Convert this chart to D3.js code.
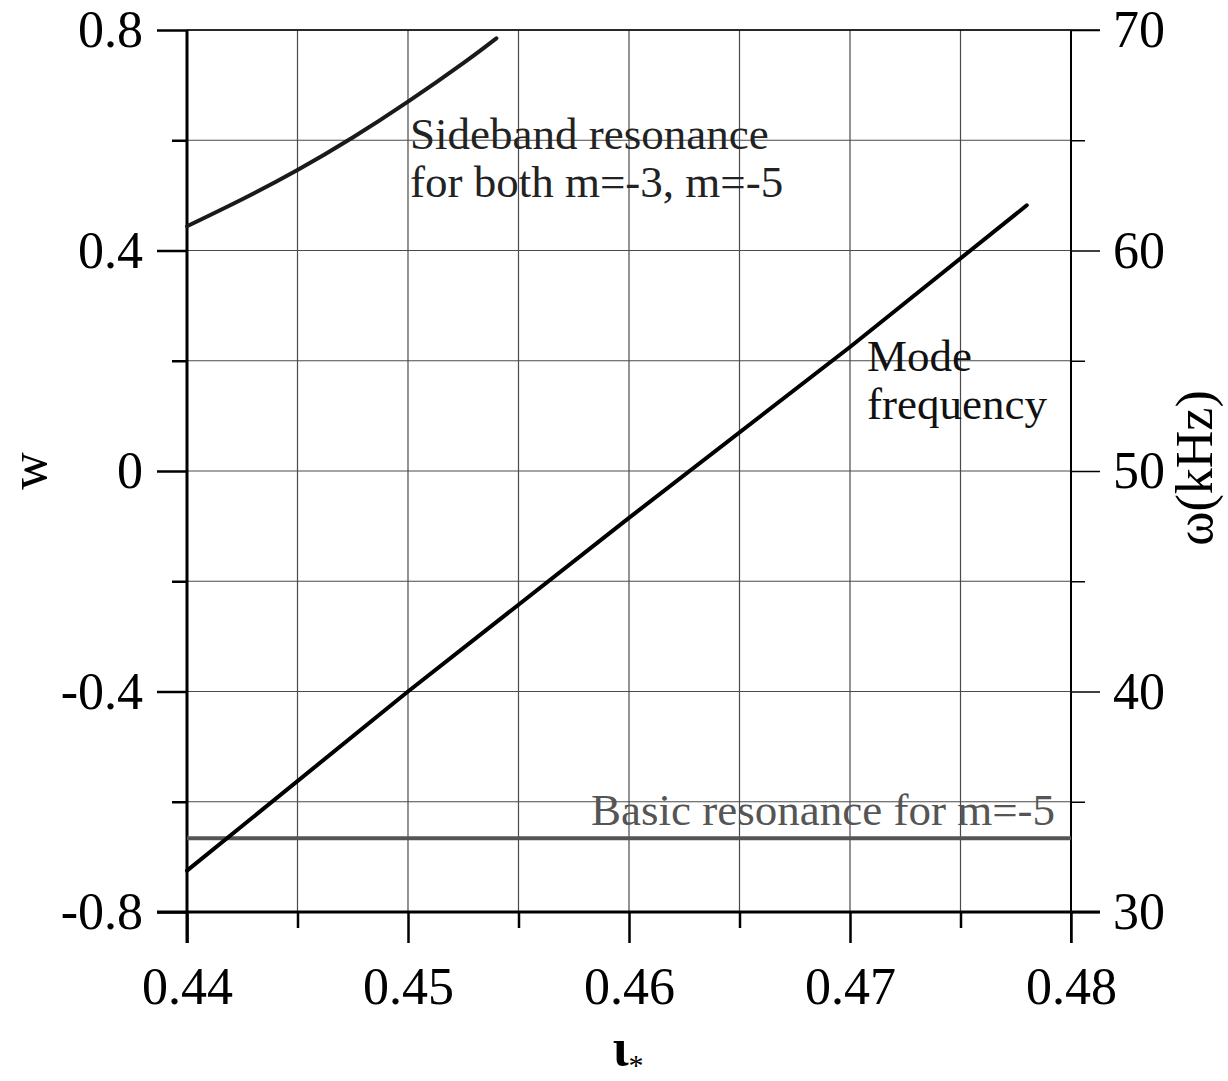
<!DOCTYPE html>
<html>
<head>
<meta charset="utf-8">
<script src="https://cdn.jsdelivr.net/npm/d3@7"></script>
<style>
  html, body { margin: 0; padding: 0; background: #fff; }
  svg { display: block; }
  text { font-family: "Liberation Serif", "Times New Roman", serif; }
</style>
</head>
<body>
<svg id="chart" width="1228" height="1081"></svg>
<script>
// Rotational transform iota_* on the x axis
const iotaMajorTicks = [0.44, 0.45, 0.46, 0.47, 0.48];
const iotaMinorTicks = [0.445, 0.455, 0.465, 0.475];
// Normalised frequency w on the left axis
const wMajorTicks = [-0.8, -0.4, 0, 0.4, 0.8];
const wMinorTicks = [-0.6, -0.2, 0.2, 0.6];
// Frequency in kHz on the right axis
const kHzMajorTicks = [30, 40, 50, 60, 70];
const kHzMinorTicks = [35, 45, 55, 65];

// Mode frequency (straight line in w)
const modeIota = [0.44, 0.45, 0.46, 0.47, 0.478];
const modeW    = [-0.725, -0.40, -0.085, 0.225, 0.482];

// Sideband resonance for m=-3 and m=-5
const sidebandIota = [0.44, 0.4425, 0.445, 0.4475, 0.45, 0.4525, 0.454];
const sidebandW    = [0.444, 0.493, 0.546, 0.605, 0.670, 0.740, 0.785];

// Basic resonance for m=-5 (constant)
const basicIota = [0.44, 0.48];
const basicW    = [-0.666, -0.666];

const svg = d3.select("#chart");
const pL = 187, pR = 1071, pT = 30, pB = 912;

const x = d3.scaleLinear().domain([0.44, 0.48]).range([pL, pR]);
const y = d3.scaleLinear().domain([-0.8, 0.8]).range([pB, pT]);
const y2 = d3.scaleLinear().domain([30, 70]).range([pB, pT]);

const fmt = d => String(d);
const fontSize = 52;
const serif = "'Liberation Serif', 'Times New Roman', serif";

// grid
const grid = svg.append("g");
d3.range(0, 9).map(i => 0.44 + i * 0.005).forEach(v => {
  grid.append("line")
    .attr("x1", x(v)).attr("x2", x(v))
    .attr("y1", pT).attr("y2", pB)
    .attr("stroke", "#4a4a4a").attr("stroke-width", 1.2);
});
d3.range(0, 9).map(i => -0.8 + i * 0.2).forEach(v => {
  grid.append("line")
    .attr("x1", pL).attr("x2", pR)
    .attr("y1", y(v)).attr("y2", y(v))
    .attr("stroke", "#4a4a4a").attr("stroke-width", 1.2);
});

function styleAxis(g, width) {
  g.select(".domain").remove();
  g.selectAll(".tick line").attr("stroke", "#000").attr("stroke-width", width);
  g.selectAll(".tick text")
    .attr("fill", "#000")
    .attr("font-size", fontSize)
    .attr("font-family", serif);
}

// left axis
const gLeftMinor = svg.append("g").attr("transform", `translate(${pL},0)`)
  .call(d3.axisLeft(y).tickValues(wMinorTicks).tickSize(15).tickFormat(""));
styleAxis(gLeftMinor, 2.5);
const gLeft = svg.append("g").attr("transform", `translate(${pL},0)`)
  .call(d3.axisLeft(y).tickValues(wMajorTicks).tickSize(30).tickPadding(14).tickFormat(fmt));
styleAxis(gLeft, 2.5);

// bottom axis
const gBotMinor = svg.append("g").attr("transform", `translate(0,${pB})`)
  .call(d3.axisBottom(x).tickValues(iotaMinorTicks).tickSize(16).tickFormat(""));
styleAxis(gBotMinor, 2.5);
const gBot = svg.append("g").attr("transform", `translate(0,${pB})`)
  .call(d3.axisBottom(x).tickValues(iotaMajorTicks).tickSize(31).tickPadding(24).tickFormat(d3.format(".2f")));
styleAxis(gBot, 2.5);

// right axis
const gRightMinor = svg.append("g").attr("transform", `translate(${pR},0)`)
  .call(d3.axisRight(y2).tickValues(kHzMinorTicks).tickSize(14).tickFormat(""));
styleAxis(gRightMinor, 1.5);
const gRight = svg.append("g").attr("transform", `translate(${pR},0)`)
  .call(d3.axisRight(y2).tickValues(kHzMajorTicks).tickSize(29).tickPadding(13).tickFormat(fmt));
styleAxis(gRight, 1.5);

// axis lines
svg.append("line").attr("x1", pL).attr("x2", pL).attr("y1", pT).attr("y2", pB + 31)
  .attr("stroke", "#000").attr("stroke-width", 3);
svg.append("line").attr("x1", pL - 30).attr("x2", pR + 29).attr("y1", pB).attr("y2", pB)
  .attr("stroke", "#000").attr("stroke-width", 3);
svg.append("line").attr("x1", pR).attr("x2", pR).attr("y1", pT).attr("y2", pB + 31)
  .attr("stroke", "#000").attr("stroke-width", 2);
svg.append("line").attr("x1", pL).attr("x2", pR + 29).attr("y1", pT).attr("y2", pT)
  .attr("stroke", "#000").attr("stroke-width", 1.3);

// curves
const straight = d3.line().x(d => x(d[0])).y(d => y(d[1]));
const smooth = d3.line().x(d => x(d[0])).y(d => y(d[1])).curve(d3.curveNatural);

svg.append("path")
  .datum(basicIota.map((v, i) => [v, basicW[i]]))
  .attr("d", straight)
  .attr("fill", "none").attr("stroke", "#555").attr("stroke-width", 4);

svg.append("path")
  .datum(modeIota.map((v, i) => [v, modeW[i]]))
  .attr("d", straight)
  .attr("fill", "none").attr("stroke", "#000").attr("stroke-width", 4)
  .attr("stroke-linecap", "round");

svg.append("path")
  .datum(sidebandIota.map((v, i) => [v, sidebandW[i]]))
  .attr("d", smooth)
  .attr("fill", "none").attr("stroke", "#1a1a1a").attr("stroke-width", 4)
  .attr("stroke-linecap", "round");

// annotations
const note = svg.append("g").attr("font-size", 45).attr("font-family", serif);
note.append("text").attr("x", 410).attr("y", 149).attr("fill", "#222").text("Sideband resonance");
note.append("text").attr("x", 410).attr("y", 197).attr("fill", "#222").text("for both m=-3, m=-5");
note.append("text").attr("x", 867).attr("y", 371).attr("fill", "#111").text("Mode");
note.append("text").attr("x", 867).attr("y", 419).attr("fill", "#111").text("frequency");
note.append("text").attr("x", 1055).attr("y", 825).attr("text-anchor", "end").attr("fill", "#555")
  .text("Basic resonance for m=-5");

// axis titles
svg.append("text")
  .attr("transform", "translate(46,471) rotate(-90)")
  .attr("text-anchor", "middle").attr("font-size", fontSize).attr("fill", "#000")
  .attr("font-family", serif)
  .text("w");
svg.append("text")
  .attr("transform", "translate(1212,468) rotate(-90)")
  .attr("text-anchor", "middle").attr("font-size", fontSize).attr("fill", "#000")
  .attr("font-family", serif)
  .text("ω(kHz)");
const xt = svg.append("text")
  .attr("x", 628).attr("y", 1065)
  .attr("text-anchor", "middle").attr("font-size", fontSize).attr("fill", "#000")
  .attr("font-family", serif);
xt.append("tspan").attr("font-weight", "bold").text("ι");
xt.append("tspan").attr("font-size", 30).attr("dy", 10).text("*");
</script>
</body>
</html>
